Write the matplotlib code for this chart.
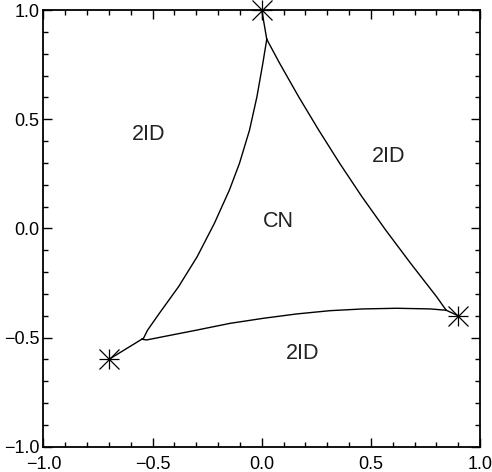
import matplotlib
matplotlib.use("Agg")
import matplotlib.pyplot as plt
from matplotlib.ticker import MultipleLocator

plt.rcParams["font.family"] = ["Liberation Sans", "DejaVu Sans"]

# asterisk positions (the three corner points)
star_x = [0.0, -0.70, 0.90]
star_y = [1.0, -0.60, -0.40]

# left boundary, bottom vertex -> top vertex
left_x = [-0.550, -0.542, -0.523, -0.469, -0.381, -0.296, -0.217, -0.148, -0.102, -0.056, -0.022, 0.005, 0.023]
left_y = [-0.508, -0.504, -0.466, -0.389, -0.267, -0.130, 0.023, 0.176, 0.298, 0.450, 0.603, 0.756, 0.866]

# right boundary, top vertex -> right vertex
right_x = [0.023, 0.082, 0.169, 0.261, 0.357, 0.459, 0.568, 0.682, 0.801, 0.845]
right_y = [0.866, 0.756, 0.603, 0.450, 0.298, 0.145, -0.008, -0.160, -0.313, -0.375]

# bottom boundary, left vertex -> right vertex
bottom_x = [-0.550, -0.527, -0.451, -0.298, -0.145, 0.007, 0.160, 0.313, 0.465, 0.618, 0.771, 0.845]
bottom_y = [-0.508, -0.511, -0.496, -0.466, -0.435, -0.412, -0.392, -0.377, -0.369, -0.366, -0.369, -0.375]

# short links from each asterisk to its vertex
link_x = [[0.0, 0.023], [-0.70, -0.550], [0.90, 0.845]]
link_y = [[1.0, 0.866], [-0.60, -0.508], [-0.40, -0.375]]

# region labels
label_txt = ["2ID", "2ID", "2ID", "CN"]
label_x = [-0.517, 0.583, 0.187, 0.075]
label_y = [0.430, 0.331, -0.571, 0.031]

fig = plt.figure(figsize=(4.92, 4.72), dpi=100)
ax = fig.add_axes([0.0884, 0.0536, 0.8872, 0.9252])

lw = 1.0
ax.plot(left_x, left_y, color="black", lw=lw)
ax.plot(right_x, right_y, color="black", lw=lw)
ax.plot(bottom_x, bottom_y, color="black", lw=lw)
for lx, ly in zip(link_x, link_y):
    ax.plot(lx, ly, color="black", lw=lw)

# IDL style asterisk = plus + cross
ax.plot(star_x, star_y, ls="none", marker="+", ms=14.5, mew=0.9, color="black", clip_on=False)
ax.plot(star_x, star_y, ls="none", marker="x", ms=14.5, mew=0.9, color="black", clip_on=False)

for t, x, y in zip(label_txt, label_x, label_y):
    ax.text(x, y, t, ha="center", va="center", fontsize=15.5,
            fontweight="light", color="#222222")

ax.set_xlim(-1.0, 1.0)
ax.set_ylim(-1.0, 1.0)
ax.xaxis.set_major_locator(MultipleLocator(0.5))
ax.yaxis.set_major_locator(MultipleLocator(0.5))
ax.xaxis.set_minor_locator(MultipleLocator(0.1))
ax.yaxis.set_minor_locator(MultipleLocator(0.1))
ax.xaxis.set_major_formatter(plt.FuncFormatter(lambda v, p: f"{v:.1f}".replace("-", "\u2212")))
ax.yaxis.set_major_formatter(plt.FuncFormatter(lambda v, p: f"{v:.1f}".replace("-", "\u2212")))

ax.tick_params(which="both", direction="in", top=True, right=True, width=1.0, colors="black")
ax.tick_params(which="major", length=6.5, labelsize=13)
ax.tick_params(axis="x", which="major", pad=7)
ax.tick_params(axis="y", which="major", pad=3)
ax.tick_params(which="minor", length=3.6)
for s in ax.spines.values():
    s.set_linewidth(1.3)

fig.savefig("out.png", dpi=100)
